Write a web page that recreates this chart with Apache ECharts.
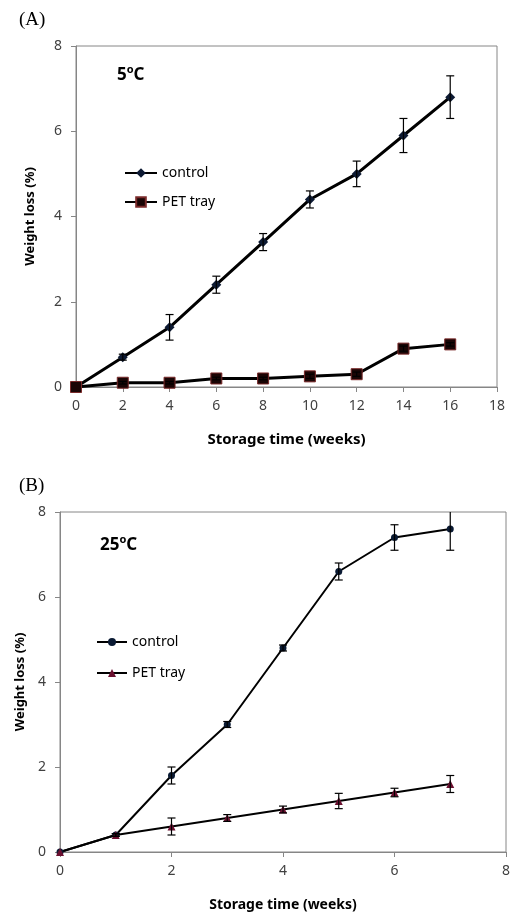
<!DOCTYPE html>
<html>
<head>
<meta charset="utf-8">
<script src="https://cdn.jsdelivr.net/npm/echarts@6/dist/echarts.min.js"></script>
<style>
  html, body { margin: 0; padding: 0; background: #fff; }
  #chart { width: 516px; height: 916px; }
</style>
</head>
<body>
<div id="chart"></div>
<script>
// (A) 5oC
const weeksA = [0, 2, 4, 6, 8, 10, 12, 14, 16];
const controlA = [0, 0.7, 1.4, 2.4, 3.4, 4.4, 5.0, 5.9, 6.8];
const controlAErr = [0, 0.07, 0.3, 0.2, 0.2, 0.2, 0.3, 0.4, 0.5];
const petA = [0, 0.1, 0.1, 0.2, 0.2, 0.25, 0.3, 0.9, 1.0];
const petAErr = [0, 0.03, 0.03, 0.03, 0.03, 0.05, 0.05, 0.06, 0.04];
// (B) 25oC
const weeksB = [0, 1, 2, 3, 4, 5, 6, 7];
const controlB = [0, 0.4, 1.8, 3.0, 4.8, 6.6, 7.4, 7.6];
const controlBErr = [0, 0.03, 0.2, 0.07, 0.07, 0.2, 0.3, 0.5];
const petB = [0, 0.4, 0.6, 0.8, 1.0, 1.2, 1.4, 1.6];
const petBErr = [0, 0.03, 0.2, 0.08, 0.08, 0.18, 0.1, 0.2];

const chart = echarts.init(document.getElementById('chart'));

const pairs = (xs, ys) => xs.map((x, i) => [x, ys[i]]);
const errs = (xs, ys, es) =>
  xs.map((x, i) => [x, ys[i] - es[i], ys[i] + es[i]]).filter((d, i) => es[i] > 0);

function errorBar(params, api) {
  const x = api.value(0);
  const lo = api.coord([x, api.value(1)]);
  const hi = api.coord([x, api.value(2)]);
  const cap = 4;
  const style = { stroke: '#000', lineWidth: 1.2 };
  return {
    type: 'group',
    children: [
      { type: 'line', shape: { x1: lo[0], y1: lo[1], x2: hi[0], y2: hi[1] }, style },
      { type: 'line', shape: { x1: hi[0] - cap, y1: hi[1], x2: hi[0] + cap, y2: hi[1] }, style },
      { type: 'line', shape: { x1: lo[0] - cap, y1: lo[1], x2: lo[0] + cap, y2: lo[1] }, style },
    ],
  };
}

const axisGrey = '#868686';
const tickFont = { color: '#404040', fontSize: 14, fontFamily: 'Noto Sans' };
const nameFont = size => ({ color: '#000', fontSize: size, fontWeight: 'bold', fontFamily: 'Noto Sans' });

function xAxisOf(idx, max, gap, size) {
  return {
    type: 'value',
    gridIndex: idx,
    min: 0,
    max: max,
    interval: 2,
    name: 'Storage time (weeks)',
    nameLocation: 'middle',
    nameGap: gap,
    nameTextStyle: nameFont(size),
    axisLine: { lineStyle: { color: axisGrey, width: 1 } },
    axisTick: { show: true, length: 5, lineStyle: { color: axisGrey } },
    axisLabel: { ...tickFont, margin: 12 },
    splitLine: { show: false },
  };
}

function yAxisOf(idx, gap) {
  return {
    type: 'value',
    gridIndex: idx,
    min: 0,
    max: 8,
    interval: 2,
    name: 'Weight loss (%)',
    nameLocation: 'middle',
    nameGap: gap,
    nameTextStyle: nameFont(13),
    axisLine: { show: true, lineStyle: { color: axisGrey, width: 1 } },
    axisTick: { show: true, length: 5, lineStyle: { color: axisGrey } },
    axisLabel: { ...tickFont, margin: 14 },
    splitLine: { show: false },
  };
}

const tempRich = {
  n: { fontFamily: 'Noto Sans', fontWeight: 'bold', fontSize: 17, lineHeight: 22, color: '#000' },
  s: { fontFamily: 'Noto Sans', fontWeight: 'bold', fontSize: 11, lineHeight: 11, color: '#000', verticalAlign: 'top' },
};

const option = {
  backgroundColor: '#fff',
  animation: false,
  title: [
    { text: '(A)', left: 14, top: 6, textStyle: { fontFamily: 'Liberation Serif', fontSize: 19, fontWeight: 'normal', color: '#000' } },
    { text: '(B)', left: 14, top: 472, textStyle: { fontFamily: 'Liberation Serif', fontSize: 19, fontWeight: 'normal', color: '#000' } },
    { text: '{n|5}{s|o}{n|C}', left: 112, top: 59, textStyle: { rich: tempRich } },
    { text: '{n|25}{s|o}{n|C}', left: 95, top: 529, textStyle: { rich: tempRich } },
  ],
  legend: [
    {
      data: ['A|control', 'A|PET tray'],
      orient: 'vertical', left: 119, top: 161,
      itemWidth: 32, itemHeight: 12, itemGap: 15,
      formatter: n => n.split('|')[1],
      textStyle: { color: '#000', fontSize: 14, fontFamily: 'Noto Sans' },
      selectedMode: false,
    },
    {
      data: ['B|control', 'B|PET tray'],
      orient: 'vertical', left: 91, top: 630,
      itemWidth: 30, itemHeight: 10, itemGap: 17,
      formatter: n => n.split('|')[1],
      textStyle: { color: '#000', fontSize: 14, fontFamily: 'Noto Sans' },
      selectedMode: false,
    },
  ],
  grid: [
    { left: 76, top: 46, width: 421, height: 341, show: true, borderColor: axisGrey, borderWidth: 1 },
    { left: 60, top: 512, width: 446, height: 340, show: true, borderColor: axisGrey, borderWidth: 1 },
  ],
  xAxis: [xAxisOf(0, 18, 45, 15), xAxisOf(1, 8, 46, 14)],
  yAxis: [yAxisOf(0, 39), yAxisOf(1, 30)],
  series: [
    {
      type: 'custom', xAxisIndex: 0, yAxisIndex: 0, renderItem: errorBar, z: 3, clip: true,
      data: errs(weeksA, controlA, controlAErr).concat(errs(weeksA, petA, petAErr)),
    },
    {
      type: 'custom', xAxisIndex: 1, yAxisIndex: 1, renderItem: errorBar, z: 3, clip: true,
      data: errs(weeksB, controlB, controlBErr).concat(errs(weeksB, petB, petBErr)),
    },
    {
      name: 'A|control', type: 'line', xAxisIndex: 0, yAxisIndex: 0, z: 2,
      data: pairs(weeksA, controlA),
      symbol: 'diamond', symbolSize: 10,
      lineStyle: { color: '#000', width: 3 },
      itemStyle: { color: '#0d1a33', borderColor: '#0d1a33', borderWidth: 0 },
    },
    {
      name: 'A|PET tray', type: 'line', xAxisIndex: 0, yAxisIndex: 0, z: 2,
      data: pairs(weeksA, petA),
      symbol: 'rect', symbolSize: 11,
      lineStyle: { color: '#000', width: 3 },
      itemStyle: { color: '#1a0505', borderColor: '#7a2a2a', borderWidth: 1 },
    },
    {
      name: 'B|control', type: 'line', xAxisIndex: 1, yAxisIndex: 1, z: 2,
      data: pairs(weeksB, controlB),
      symbol: 'circle', symbolSize: 7,
      lineStyle: { color: '#000', width: 2 },
      itemStyle: { color: '#0a1a33', borderWidth: 0 },
    },
    {
      name: 'B|PET tray', type: 'line', xAxisIndex: 1, yAxisIndex: 1, z: 2,
      data: pairs(weeksB, petB),
      symbol: 'triangle', symbolSize: 8,
      lineStyle: { color: '#000', width: 2 },
      itemStyle: { color: '#6b1030', borderWidth: 0 },
    },
  ],
};

chart.setOption(option);
</script>
</body>
</html>
